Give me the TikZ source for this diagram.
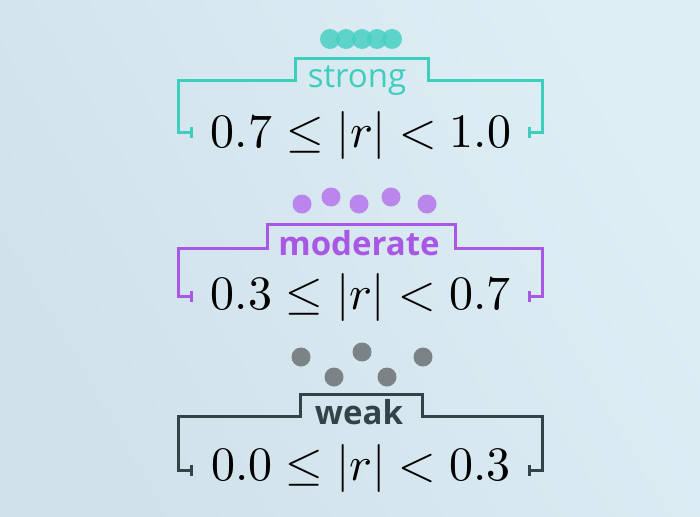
\documentclass[tikz,border=0pt]{standalone}
\usepackage{fontspec}
\usepackage{unicode-math}
\setmathfont{Latin Modern Math}
\setsansfont{Open Sans}
\usetikzlibrary{arrows.meta}
\definecolor{bg-left}{RGB}{208,225,234}
\definecolor{bg-right}{RGB}{222,238,245}
\definecolor{strong-col}{RGB}{62,206,190}
\definecolor{strong-dot}{RGB}{72,208,196}
\definecolor{moderate-col}{RGB}{168,88,228}
\definecolor{moderate-dot}{RGB}{186,134,236}
\definecolor{weak-col}{RGB}{52,66,74}
\definecolor{weak-dot}{RGB}{124,131,135}
\tikzset{
    range-label/.style = {font=\sffamily\bfseries\fontsize{33}{35}\selectfont, inner sep=0pt, anchor=base},
    range-math/.style = {font=\fontsize{48}{50}\selectfont, inner sep=0pt, anchor=base, text=black},
    range-bracket/.style = {line width=3pt, line join=miter, {Bar[width=11pt]}-{Bar[width=11pt]}},
}
% bracket: colour, y of arms, x of raised left, x of raised right, y of raised top, y of hooks
\newcommand{\rangebracket}[6]{%
    \draw[range-bracket, #1] (193,#6) -- (178,#6) -- (178,#2) -- (#3,#2) -- (#3,#5)
        -- (#4,#5) -- (#4,#2) -- (542,#2) -- (542,#6) -- (528,#6);
}

\begin{document}
\begin{tikzpicture}[x=1pt, y=-1pt]
\useasboundingbox (0,0) rectangle (700,516);
\shade[left color=bg-left, right color=bg-right, shading angle=120] (0,0) rectangle (700,516);

% strong
\foreach \x in {330,346,362,377,392}
    \fill[strong-dot, opacity=0.85] (\x,39) circle[radius=10pt];
\rangebracket{strong-col}{81}{295}{428}{59}{132}
\node[range-label, text=strong-col] (strong) at (357,88) {\mdseries strong};
\node[range-math] (strong-range) at (361,147) {$0.7 \leq |r| < 1.0$};

% moderate
\foreach \x/\y in {302/204, 331/197, 359/204, 391/197, 427/204}
    \fill[moderate-dot] (\x,\y) circle[radius=9.5pt];
\rangebracket{moderate-col}{248}{267}{455}{224}{296}
\node[range-label, text=moderate-col] (moderate) at (359,255) {moderate};
\node[range-math] (moderate-range) at (361,309) {$0.3 \leq |r| < 0.7$};

% weak
\foreach \x/\y in {301/357, 334/377, 362/352, 387/377, 423/357}
    \fill[weak-dot] (\x,\y) circle[radius=9.5pt];
\rangebracket{weak-col}{416}{300}{422}{394}{470}
\node[range-label, text=weak-col] (weak) at (359,424) {weak};
\node[range-math] (weak-range) at (361,480) {$0.0 \leq |r| < 0.3$};
\end{tikzpicture}
\end{document}
